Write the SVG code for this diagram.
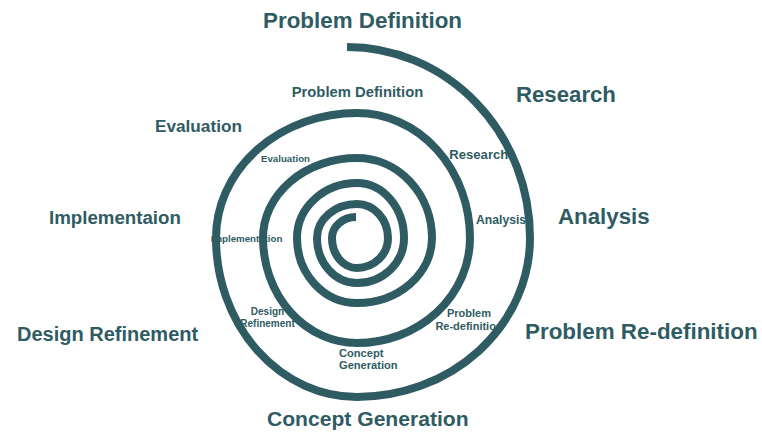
<svg xmlns="http://www.w3.org/2000/svg" width="762" height="432" viewBox="0 0 762 432">
<style>
text{font-family:"Liberation Sans",Arial,Helvetica,sans-serif;font-weight:bold;fill:#2f5b63}
.c{text-anchor:middle}
.spiral{fill:none;stroke:#2f5b63;stroke-width:8;stroke-linecap:butt}
</style>
<rect width="762" height="432" fill="#ffffff"/>
<g id="labels-outer">
<text id="lo-problem-definition" x="263" y="28" font-size="22.4">Problem Definition</text>
<text id="lo-research" x="516" y="102" font-size="22.2">Research</text>
<text id="lo-analysis" x="558" y="224" font-size="22.3">Analysis</text>
<text id="lo-problem-redefinition" x="525" y="339" font-size="22.4">Problem Re-definition</text>
<text id="lo-concept-generation" x="267" y="426" font-size="21.1">Concept Generation</text>
<text id="lo-design-refinement" x="17" y="341" font-size="20">Design Refinement</text>
<text id="lo-implementaion" x="49" y="224" font-size="18.7">Implementaion</text>
<text id="lo-evaluation" x="155" y="132" font-size="17.2">Evaluation</text>
</g>
<g id="labels-inner">
<text id="li-problem-definition" x="291.7" y="97" font-size="14.8">Problem Definition</text>
<text id="li-research" x="449.3" y="158.5" font-size="13.1">Research</text>
<text id="li-analysis" x="476" y="223.5" font-size="12.2">Analysis</text>
<text id="li-problem-redefinition" class="c" font-size="11"><tspan x="469" y="316.7">Problem</tspan><tspan x="469" y="330">Re-definition</tspan></text>
<text id="li-concept-generation" font-size="11.1"><tspan x="339" y="357.3">Concept</tspan><tspan x="339" y="369.3">Generation</tspan></text>
<text id="li-design-refinement" class="c" font-size="10"><tspan x="267.5" y="315">Design</tspan><tspan x="267.5" y="326.7">Refinement</tspan></text>
<text id="li-implementation" x="210.8" y="241.7" font-size="9.7">Implementation</text>
<text id="li-evaluation" x="261" y="162.3" font-size="9.7">Evaluation</text>
</g>
<g id="connectors">
<path id="spiral" class="spiral" d="M 347 47 A 183 191 0 0 1 530 238 A 173 159 0 0 1 357 397 A 141 159 0 0 1 216 238 A 141 125 0 0 1 357 113 A 113 125 0 0 1 470 238 A 113 105 0 0 1 357 343 A 94 105 0 0 1 263 238 A 94 80 0 0 1 357 158 A 75 80 0 0 1 432 238 A 75 65 0 0 1 357 303 A 60 65 0 0 1 297 238 A 60 55 0 0 1 357 183 A 47 55 0 0 1 404 238 A 47 45 0 0 1 357 283 A 40 45 0 0 1 317 238 A 40 34 0 0 1 357 204 A 31 34 0 0 1 388 238 A 31 30 0 0 1 357 268 A 25 30 0 0 1 332 238 A 24 21 0 0 1 356 217"/>
</g>
</svg>
